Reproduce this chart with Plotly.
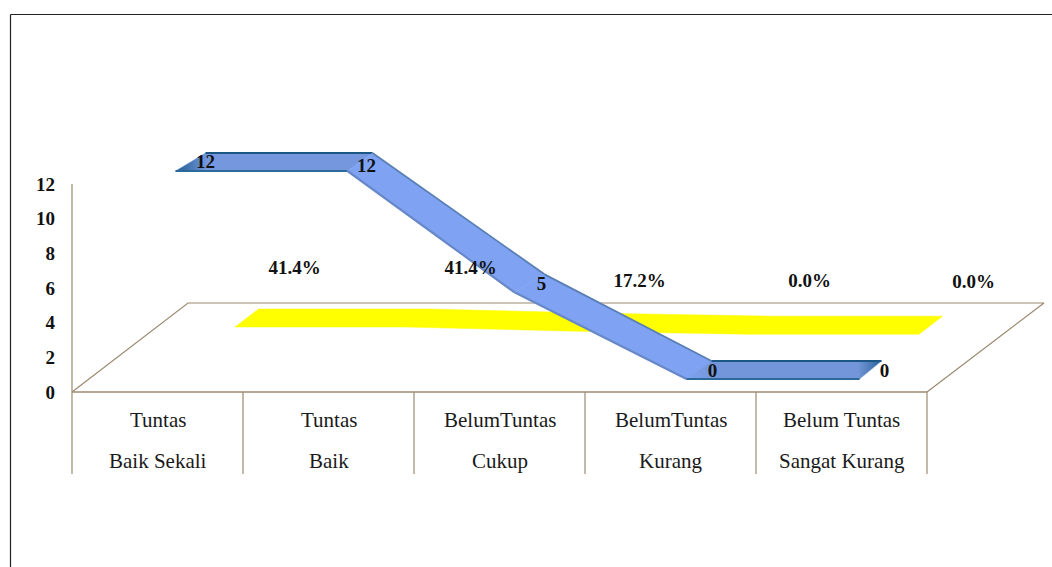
import plotly.graph_objects as go

# ---- data ----
line1 = ["Tuntas", "Tuntas", "BelumTuntas", "BelumTuntas", "Belum Tuntas"]
line2 = ["Baik Sekali", "Baik", "Cukup", "Kurang", "Sangat Kurang"]
counts = [12, 12, 5, 0, 0]
percents = [41.4, 41.4, 17.2, 0.0, 0.0]
percent_labels = ["41.4%", "41.4%", "17.2%", "0.0%", "0.0%"]
y_ticks = [0, 2, 4, 6, 8, 10, 12]

# ---- geometry of the pseudo-3D look (pixels per unit + depth offsets) ----
W, H = 1052, 567
L, R, T, B = 72, 927, 184, 392
PX = (R - L) / 5.0
PY = (B - T) / 12.0
X_LO = -0.5 - L / PX
X_HI = X_LO + W / PX
Y_LO = -(H - B) / PY
Y_HI = B / PY
X0, X1 = -0.5, 4.5
def dx(p): return p / PX
def dy(p): return p / PY

BROWN = "#9c8a72"
SERIF = "Liberation Serif"
idx = list(range(5))

blue_front_dx = [18, 19, 15, 16, 18]
blue_back_dx = [48, 44, 45, 41, 40]
blue_front_dy, blue_back_dy = 13, 31
yellow_front_dx, yellow_back_dx = 77.5, 101
yellow_front_dy, yellow_back_dy = 57.8, 75.8

fig = go.Figure()
def lines(xs, ys, color, width):
    fig.add_trace(go.Scatter(x=xs, y=ys, mode="lines", line=dict(color=color, width=width),
                             hoverinfo="skip", showlegend=False))

# value axis line, floor outline, category table
lines([X0, X0], [0, 12], BROWN, 1.2)
floor_dx, floor_dy = 116, 89
lines([X0, X0 + dx(floor_dx), X1 + dx(floor_dx + 1), X1], [0, dy(floor_dy), dy(floor_dy), 0], BROWN, 1.2)
lines([X0, X1], [0, 0], BROWN, 1.6)
for k in range(6):
    lines([k - 0.5, k - 0.5], [0, -dy(82)], BROWN, 1.2)

# yellow ribbon (second series)
yf_x = [i + dx(yellow_front_dx) for i in idx]
yf_y = [p / 100 + dy(yellow_front_dy) for p in percents]
yb_x = [i + dx(yellow_back_dx) for i in idx]
yb_y = [p / 100 + dy(yellow_back_dy) for p in percents]
fig.add_trace(go.Scatter(
    x=yf_x + yb_x[::-1] + yf_x[:1], y=yf_y + yb_y[::-1] + yf_y[:1],
    mode="lines", fill="toself", fillcolor="#ffff00",
    line=dict(color="#ffff00", width=0.5), hoverinfo="skip", showlegend=False))

# blue ribbon (first series), one face per segment
seg_colors = ["#7597de", "#7fa3f2", "#7fa3f2", "#7395d9"]
seg_gradients = [
    [[0, "#1f5c8f"], [0.16, "#7597de"], [1, "#7597de"]],
    None,
    None,
    [[0, "#7fa3f2"], [0.14, "#7395d9"], [0.88, "#7395d9"], [1, "#2a6396"]],
]
top_edges = ["#1c5685", "#5a7fb5", "#5a7fb5", "#1c5685"]
bot_edges = ["#2c6a9c", "#6788c8", "#6788c8", "#2c6a9c"]
bf_x = [i + dx(d) for i, d in zip(idx, blue_front_dx)]
bf_y = [c + dy(blue_front_dy) for c in counts]
bb_x = [i + dx(d) for i, d in zip(idx, blue_back_dx)]
bb_y = [c + dy(blue_back_dy) for c in counts]
for s in range(4):
    xs = [bf_x[s], bf_x[s + 1], bb_x[s + 1], bb_x[s], bf_x[s]]
    ys = [bf_y[s], bf_y[s + 1], bb_y[s + 1], bb_y[s], bf_y[s]]
    kw = dict(fillcolor=seg_colors[s])
    if seg_gradients[s]:
        kw = dict(fillgradient=dict(type="horizontal", colorscale=seg_gradients[s]))
    fig.add_trace(go.Scatter(
        x=xs, y=ys, mode="lines", fill="toself",
        line=dict(color=seg_colors[s], width=0.5), hoverinfo="skip", showlegend=False, **kw))
    lines([bb_x[s], bb_x[s + 1]], [bb_y[s], bb_y[s + 1]], top_edges[s], 1.8)
    lines([bf_x[s], bf_x[s + 1]], [bf_y[s], bf_y[s + 1]], bot_edges[s], 2.2)

# data labels
count_lab_dx = [48, 38, 42, 42, 43]
count_lab_dy = [21, 17, 20, 20, 20]
fig.add_trace(go.Scatter(
    x=[i + dx(d) for i, d in zip(idx, count_lab_dx)],
    y=[c + dy(d) for c, d in zip(counts, count_lab_dy)],
    text=[str(c) for c in counts], mode="text", textposition="middle center",
    textfont=dict(family=SERIF, size=19, color="#111111", weight="bold"),
    hoverinfo="skip", showlegend=False))

pct_lab_dx = [137, 142, 140, 139, 132]
pct_lab_dy = [123, 123, 110, 110, 109]
fig.add_trace(go.Scatter(
    x=[i + dx(d) for i, d in zip(idx, pct_lab_dx)],
    y=[dy(d) for d in pct_lab_dy],
    text=percent_labels, mode="text", textposition="middle center",
    textfont=dict(family=SERIF, size=19, color="#111111", weight="bold"),
    hoverinfo="skip", showlegend=False))

# outer picture frame
frame = dict(color="#222222", width=1.2)
shapes = [
    dict(type="line", xref="paper", yref="paper", x0=10.5 / W, x1=10.5 / W,
         y0=1 - 14.5 / H, y1=0, line=frame),
    dict(type="line", xref="paper", yref="paper", x0=10.5 / W, x1=1,
         y0=1 - 14.5 / H, y1=1 - 14.5 / H, line=frame),
]

annotations = []
for i in idx:
    for txt, off in ((line1[i], 27.5), (line2[i], 68.5)):
        annotations.append(dict(
            x=i, y=-dy(off), xref="x", yref="y", text=txt, showarrow=False,
            xanchor="center", yanchor="middle",
            font=dict(family=SERIF, size=21, color="#1a1a1a")))

fig.update_layout(
    width=W, height=H,
    margin=dict(l=0, r=0, t=0, b=0, pad=0),
    paper_bgcolor="white", plot_bgcolor="rgba(0,0,0,0)",
    showlegend=False, shapes=shapes, annotations=annotations,
    xaxis=dict(range=[X_LO, X_HI], domain=[0, 1], showgrid=False, zeroline=False,
               showticklabels=False, ticks="", showline=False, fixedrange=True),
    yaxis=dict(range=[Y_LO, Y_HI], domain=[0, 1], anchor="free", position=L / W,
               tickvals=y_ticks, showgrid=False, zeroline=False, ticks="", showline=False,
               fixedrange=True, ticklabelstandoff=17,
               tickfont=dict(family=SERIF, size=19, color="#111111", weight="bold")),
)

fig.write_html("out.html", post_script="document.body.style.margin='0';document.body.style.overflow='hidden';",
               config=dict(displayModeBar=False))
